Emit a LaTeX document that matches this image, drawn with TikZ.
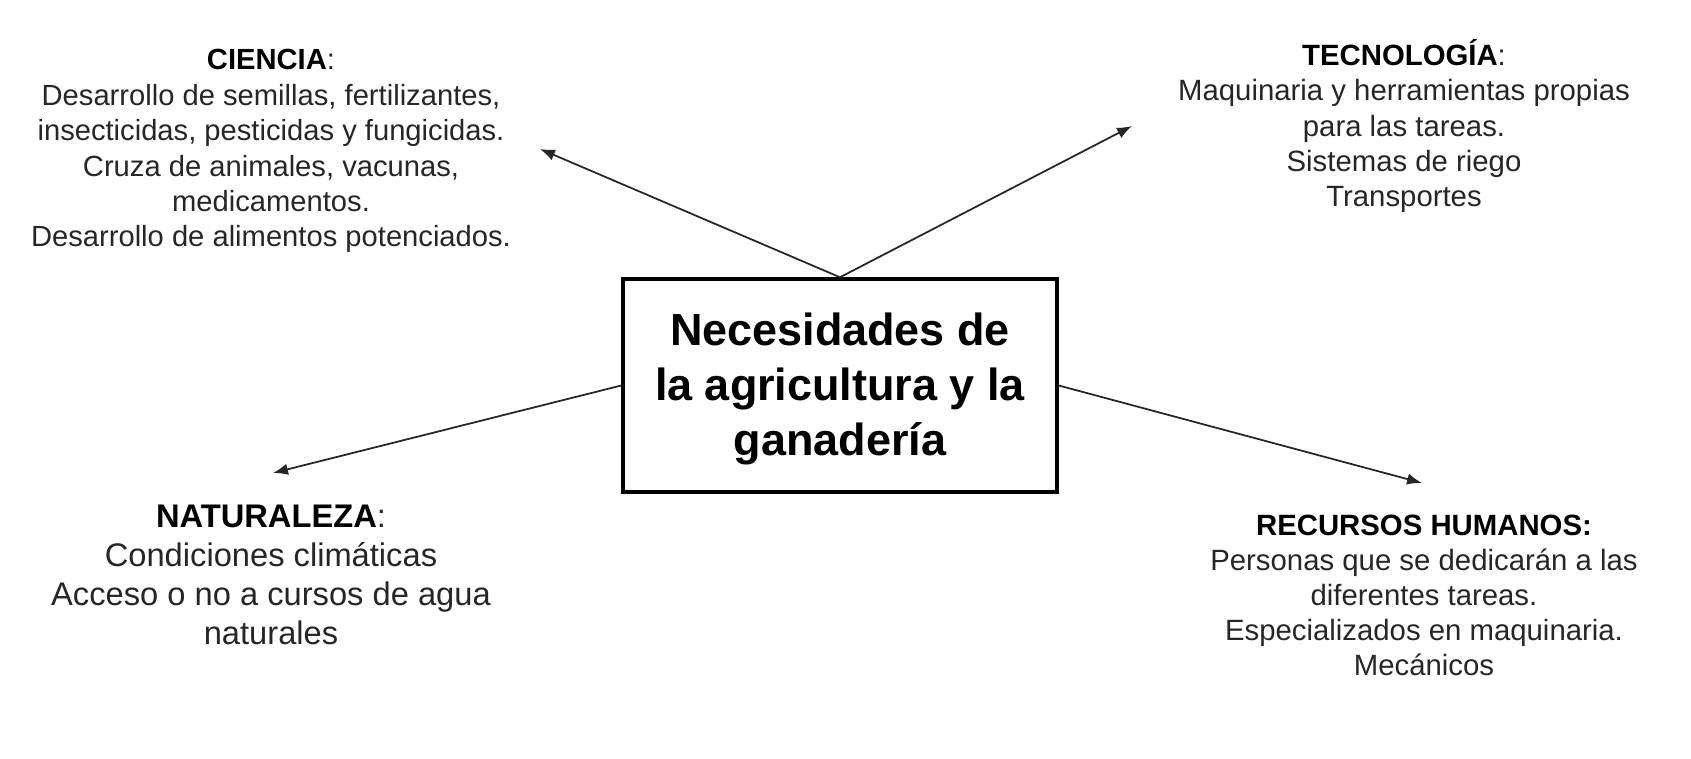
\documentclass[tikz,border=0pt]{standalone}
\usepackage{fontspec}
\setmainfont{Liberation Sans}
\usetikzlibrary{arrows.meta}

\begin{document}
\begin{tikzpicture}[x=0.02cm,y=-0.02cm,
  flecha/.style={line width=1pt,color=black!85,-{Latex[length=8.5pt,width=6.5pt]}},
  bloque/.style={align=center,inner sep=0pt,anchor=base,text=black!85}]
\useasboundingbox (0,0) rectangle (1691,759);
% caja central
\node [draw,line width=2pt,minimum width=8.68cm,minimum height=4.26cm,align=center,
  font=\bfseries\fontsize{25.6}{31.3}\selectfont] (necesidades) at (840,385.5)
  {\rule{0pt}{22pt}Necesidades de\\la agricultura y la\\ganadería};
% textos de cada necesidad (base = ultima linea)
\node [bloque,font=\fontsize{16.6}{20.2}\selectfont] (ciencia) at (271,247)
  {\textcolor{black}{\textbf{CIENCIA}}:\\Desarrollo de semillas, fertilizantes,\\insecticidas, pesticidas y fungicidas.\\Cruza de animales, vacunas,\\medicamentos.\\Desarrollo de alimentos potenciados.};
\node [bloque,font=\fontsize{16.7}{20.2}\selectfont] (tecnologia) at (1404,207)
  {\textcolor{black}{\textbf{TECNOLOGÍA}}:\\Maquinaria y herramientas propias\\para las tareas.\\Sistemas de riego\\Transportes};
\node [bloque,font=\fontsize{18.6}{22.2}\selectfont] (naturaleza) at (271,645)
  {\textcolor{black}{\textbf{NATURALEZA}}:\\Condiciones climáticas\\Acceso o no a cursos de agua\\naturales};
\node [bloque,font=\fontsize{16.7}{20}\selectfont] (recursos) at (1424,676)
  {\textcolor{black}{\textbf{RECURSOS HUMANOS:}}\\Personas que se dedicarán a las\\diferentes tareas.\\Especializados en maquinaria.\\Mecánicos};
% puntas de las flechas
\coordinate (pciencia) at (540,149);
\coordinate (ptecnologia) at (1132,126);
\coordinate (pnaturaleza) at (273,473);
\coordinate (precursos) at (1422,483);
\draw [flecha] (necesidades.north) -- (pciencia);
\draw [flecha] (necesidades.north) -- (ptecnologia);
\draw [flecha] (necesidades.west) -- (pnaturaleza);
\draw [flecha] (necesidades.east) -- (precursos);
\end{tikzpicture}
\end{document}
